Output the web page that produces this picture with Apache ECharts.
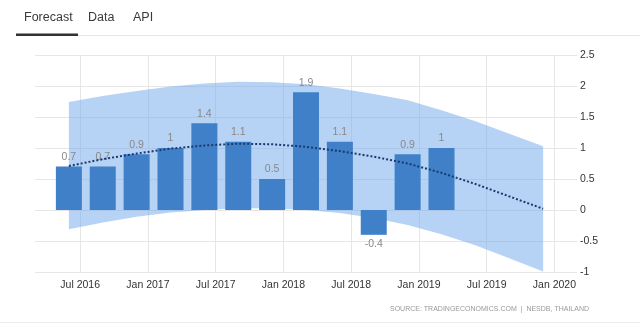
<!DOCTYPE html>
<html>
<head>
<meta charset="utf-8">
<script src="https://cdn.jsdelivr.net/npm/echarts@6/dist/echarts.min.js"></script>
<style>
  html, body { margin: 0; padding: 0; background: #ffffff; }
  #chart { width: 640px; height: 324px; }
</style>
</head>
<body>
<div id="chart"></div>
<script>
// Monthly positions along the time axis (Mar 2016 .. Mar 2020)
const months = [
  'Mar 2016','Apr 2016','May 2016','Jun 2016','Jul 2016','Aug 2016','Sep 2016','Oct 2016','Nov 2016','Dec 2016',
  'Jan 2017','Feb 2017','Mar 2017','Apr 2017','May 2017','Jun 2017','Jul 2017','Aug 2017','Sep 2017','Oct 2017','Nov 2017','Dec 2017',
  'Jan 2018','Feb 2018','Mar 2018','Apr 2018','May 2018','Jun 2018','Jul 2018','Aug 2018','Sep 2018','Oct 2018','Nov 2018','Dec 2018',
  'Jan 2019','Feb 2019','Mar 2019','Apr 2019','May 2019','Jun 2019','Jul 2019','Aug 2019','Sep 2019','Oct 2019','Nov 2019','Dec 2019',
  'Jan 2020','Feb 2020','Mar 2020'
];

// Labelled ticks on the time axis
const tickLabels = ['Jul 2016','Jan 2017','Jul 2017','Jan 2018','Jul 2018','Jan 2019','Jul 2019','Jan 2020'];

// Thailand GDP growth rate, quarter on quarter (%)
const gdpQuarters = ['Jun 2016','Sep 2016','Dec 2016','Mar 2017','Jun 2017','Sep 2017','Dec 2017','Mar 2018','Jun 2018','Sep 2018','Dec 2018','Mar 2019'];
const gdpValues = [0.7, 0.7, 0.9, 1, 1.4, 1.1, 0.5, 1.9, 1.1, -0.4, 0.9, 1];

// Trend and forecast range
const forecastQuarters = ['Jun 2016','Sep 2016','Dec 2016','Mar 2017','Jun 2017','Sep 2017','Dec 2017','Mar 2018','Jun 2018','Sep 2018','Dec 2018','Mar 2019','Jun 2019','Sep 2019','Dec 2019'];
const trendValues = [0.71, 0.82, 0.91, 0.99, 1.04, 1.07, 1.06, 1.02, 0.95, 0.86, 0.75, 0.60, 0.42, 0.22, 0.02];
const upperValues = [1.74, 1.84, 1.92, 1.99, 2.04, 2.07, 2.06, 2.03, 1.96, 1.87, 1.77, 1.61, 1.43, 1.23, 1.03];
const lowerValues = [-0.31, -0.20, -0.11, -0.04, 0.00, 0.03, 0.03, 0.00, -0.05, -0.13, -0.24, -0.39, -0.57, -0.78, -0.99];

const FONT = '"Liberation Sans", Arial, sans-serif';
const GRID_COLOR = '#e6e6e6';
const isTick = (i, v) => tickLabels.indexOf(v) !== -1;

const chart = echarts.init(document.getElementById('chart'), null, { renderer: 'canvas' });

const barData = gdpQuarters.map((q, i) => ({
  value: [q, gdpValues[i]],
  label: { position: gdpValues[i] < 0 ? 'bottom' : 'top' }
}));

const option = {
  animation: false,
  backgroundColor: '#ffffff',
  grid: { left: 35, right: 63, top: 55, bottom: 52 },
  xAxis: {
    type: 'category',
    data: months,
    boundaryGap: false,
    axisLine: { show: false },
    axisTick: { show: true, interval: isTick, length: 4, lineStyle: { color: GRID_COLOR } },
    axisLabel: { interval: isTick, margin: 8, color: '#333', fontSize: 10.5, fontFamily: FONT },
    splitLine: { show: true, interval: isTick, lineStyle: { color: GRID_COLOR, width: 1 } }
  },
  yAxis: {
    type: 'value',
    position: 'right',
    min: -1,
    max: 2.5,
    interval: 0.5,
    axisLine: { show: false },
    axisTick: { show: false },
    axisLabel: { margin: 3, color: '#333', fontSize: 10.5, fontFamily: FONT },
    splitLine: { lineStyle: { color: GRID_COLOR, width: 1 } }
  },
  series: [
    {
      name: 'range-low',
      type: 'line',
      stack: 'range',
      stackStrategy: 'all',
      data: forecastQuarters.map((q, i) => [q, lowerValues[i]]),
      symbol: 'none',
      lineStyle: { opacity: 0 },
      silent: true,
      z: 1
    },
    {
      name: 'range',
      type: 'line',
      stack: 'range',
      stackStrategy: 'all',
      data: forecastQuarters.map((q, i) => [q, +(upperValues[i] - lowerValues[i]).toFixed(4)]),
      symbol: 'none',
      lineStyle: { opacity: 0 },
      areaStyle: { color: 'rgba(110,165,235,0.5)', opacity: 1 },
      silent: true,
      z: 1
    },
    {
      name: 'GDP',
      type: 'bar',
      data: barData,
      barWidth: 26,
      itemStyle: { color: '#3f80c8' },
      label: {
        show: true,
        distance: 4,
        color: '#888',
        fontSize: 10.5,
        fontFamily: FONT,
        formatter: p => String(p.value[1])
      },
      z: 2
    },
    {
      name: 'trend',
      type: 'line',
      data: forecastQuarters.map((q, i) => [q, trendValues[i]]),
      symbol: 'none',
      lineStyle: { color: '#1b3a6b', width: 2, type: [2, 2] },
      silent: true,
      z: 3
    }
  ],
  graphic: [
    { type: 'rect', shape: { x: 16, y: 35, width: 624, height: 1 }, style: { fill: '#e6e6e6' }, silent: true },
    { type: 'rect', shape: { x: 16, y: 33.5, width: 62, height: 2.5 }, style: { fill: '#333' }, silent: true },
    { type: 'text', x: 24, y: 18, style: { text: 'Forecast', font: '12.5px ' + FONT, fill: '#3a3a3a', verticalAlign: 'middle' }, silent: true },
    { type: 'text', x: 88, y: 18, style: { text: 'Data', font: '12.5px ' + FONT, fill: '#3a3a3a', verticalAlign: 'middle' }, silent: true },
    { type: 'text', x: 133, y: 18, style: { text: 'API', font: '12.5px ' + FONT, fill: '#3a3a3a', verticalAlign: 'middle' }, silent: true },
    { type: 'text', x: 589, y: 309, style: { text: 'SOURCE: TRADINGECONOMICS.COM  |  NESDB, THAILAND', font: '7px ' + FONT, fill: '#999', align: 'right', verticalAlign: 'middle' }, silent: true },
    { type: 'rect', shape: { x: 0, y: 322, width: 640, height: 1 }, style: { fill: '#ececec' }, silent: true }
  ]
};

chart.setOption(option);
</script>
</body>
</html>
